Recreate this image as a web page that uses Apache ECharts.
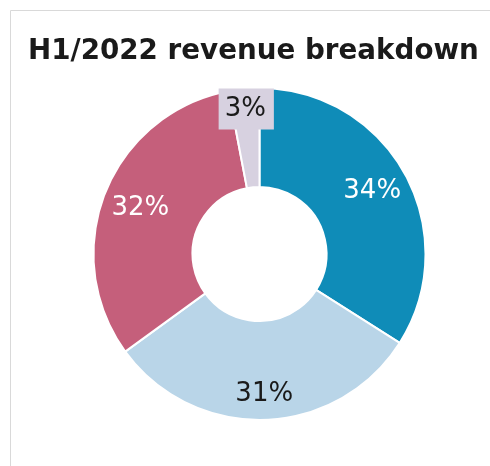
<!DOCTYPE html>
<html>
<head>
<meta charset="utf-8">
<script src="https://cdn.jsdelivr.net/npm/echarts@6/dist/echarts.min.js"></script>
<style>
  html, body { margin: 0; padding: 0; background: #fff; }
  #chart { width: 490px; height: 466px; }
</style>
</head>
<body>
<div id="chart"></div>
<script>
// revenue split, H1/2022 (percent)
var segments = ['Segment A', 'Segment B', 'Segment C', 'Other'];
var shares = [34, 31, 32, 3];
var colors = ['#0f8cb8', '#b9d5e8', '#c55f7b', '#d7d1e0'];
var labelColors = ['#ffffff', '#1a1a1a', '#ffffff', '#1a1a1a'];
// nudges for the inside labels (px), per slice
var labelShift = [[8, -5], [1, 21], [-8, -2], [-2, -26]];

var chart = echarts.init(document.getElementById('chart'));

var data = segments.map(function (name, i) {
	var item = {
		name: name,
		value: shares[i],
		itemStyle: { color: colors[i] },
		label: { color: labelColors[i] }
	};
	if (i === 3) {
		// small slice gets a boxed label
		item.label.backgroundColor = colors[i];
		item.label.padding = [9, 8, 6, 6];
	}
	return item;
});

chart.setOption({
	animation: false,
	title: {
		text: 'H1/2022 revenue breakdown',
		left: 23,
		top: 33,
		textStyle: {
			fontFamily: 'DejaVu Sans',
			fontWeight: 'bold',
			fontSize: 27.75,
			color: '#1a1a1a'
		}
	},
	graphic: [{
		type: 'rect',
		shape: { x: 10.5, y: 10.5, width: 600, height: 600 },
		style: { fill: 'none', stroke: '#d9d9d9', lineWidth: 1 },
		silent: true
	}],
	series: [{
		type: 'pie',
		center: [259.5, 254],
		radius: [67, 166],
		startAngle: 90,
		clockwise: true,
		itemStyle: { borderColor: '#ffffff', borderWidth: 2 },
		label: {
			show: true,
			position: 'inside',
			formatter: '{c}%',
			fontFamily: 'DejaVu Sans',
			fontSize: 26
		},
		labelLine: { show: false },
		labelLayout: function (params) {
			var s = labelShift[params.dataIndex];
			return { dx: s[0], dy: s[1] };
		},
		emphasis: { disabled: true },
		data: data
	}]
});
</script>
</body>
</html>
